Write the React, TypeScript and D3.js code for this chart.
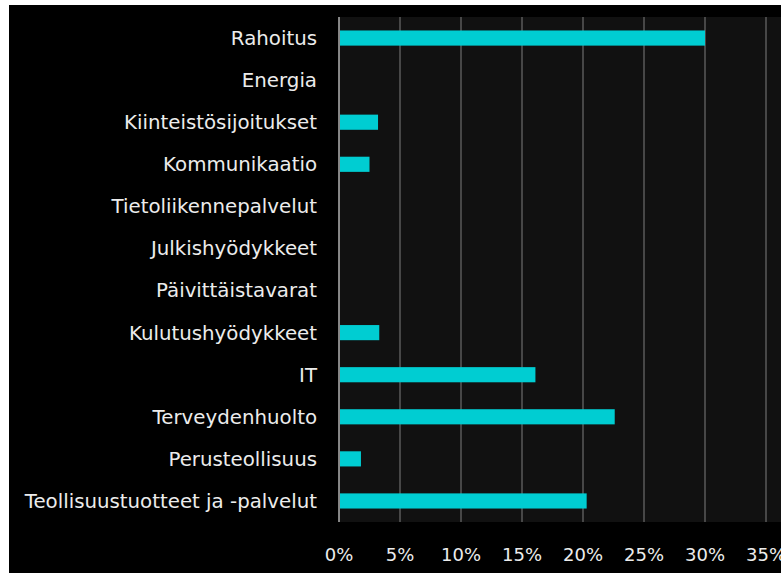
import React from 'react';
import * as d3 from 'd3';

const categories = [
  'Rahoitus',
  'Energia',
  'Kiinteistösijoitukset',
  'Kommunikaatio',
  'Tietoliikennepalvelut',
  'Julkishyödykkeet',
  'Päivittäistavarat',
  'Kulutushyödykkeet',
  'IT',
  'Terveydenhuolto',
  'Perusteollisuus',
  'Teollisuustuotteet ja -palvelut',
];
const values = [30, 0, 3.2, 2.5, 0, 0, 0, 3.3, 16.1, 22.6, 1.8, 20.3];
const ticks = [0, 5, 10, 15, 20, 25, 30, 35];

const W = 781;
const H = 573;
const left = 339;
const top = 17;
const bottom = 522;
const right = 766;

const App = () => {
  const x = d3.scaleLinear().domain([0, 35]).range([left, right]);
  const y = d3.scaleBand().domain(categories).range([top, bottom]).paddingInner(0.64).paddingOuter(0.32);
  const font = '"DejaVu Sans", sans-serif';

  return (
    <svg width={W} height={H} style={{ position: 'absolute', left: 0, top: 0, display: 'block' }}>
      <rect x={0} y={0} width={W} height={H} fill="#ffffff" />
      <rect x={9} y={5} width={W - 9} height={H - 5} fill="#000000" />
      <rect x={left} y={top} width={W - left} height={bottom - top} fill="#111111" />
      {ticks.map((t) => (
        <line key={t} x1={x(t)} x2={x(t)} y1={top} y2={bottom} stroke={t === 0 ? '#b0b0b0' : '#5a5a5a'} strokeWidth={1.5} />
      ))}
      {categories.map((c, i) => (
        <rect key={c} x={x(0) + 1} y={y(c)} width={Math.max(0, x(values[i]) - x(0) - 1)} height={y.bandwidth()} fill="#00cdd2" />
      ))}
      {categories.map((c) => (
        <text key={c} x={317} y={(y(c) ?? 0) + y.bandwidth() / 2} dy="0.35em" textAnchor="end" fill="#ececec" fontSize={19.8} fontFamily={font}>
          {c}
        </text>
      ))}
      {ticks.map((t) => (
        <text key={t} x={x(t)} y={555} dy="0.35em" textAnchor="middle" fill="#ececec" fontSize={18} fontFamily={font}>
          {t}%
        </text>
      ))}
    </svg>
  );
};

export default App;
